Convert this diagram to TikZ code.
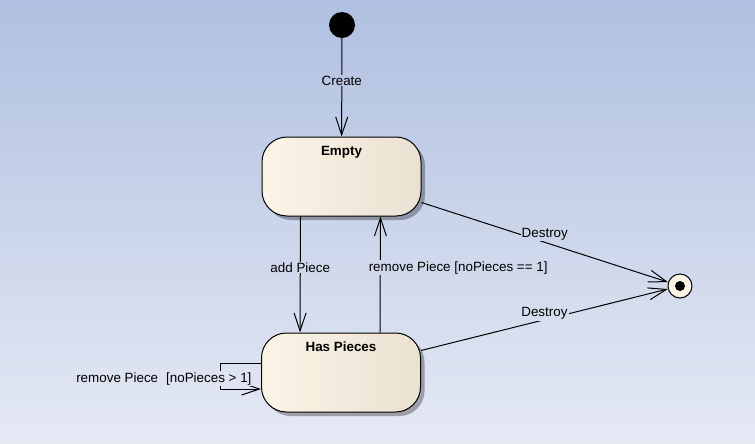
\documentclass[tikz,border=0pt]{standalone}
\usepackage{fontspec}
\setmainfont{Liberation Sans}
\usetikzlibrary{arrows.meta, positioning, shadows}
\definecolor{bgtop}{RGB}{176,192,224}
\definecolor{bgbot}{RGB}{229,233,244}
\definecolor{stateL}{RGB}{252,244,230}
\definecolor{stateR}{RGB}{234,225,211}

\begin{document}
\begin{tikzpicture}[
  x=1pt, y=-1pt,
  font=\fontsize{13.4}{15}\selectfont,
  state/.style={draw, line width=1pt, rounded corners=25pt,
    minimum width=159pt, minimum height=79pt,
    left color=stateL, right color=stateR,
    drop shadow={shadow xshift=4pt, shadow yshift=-4pt,
      fill=black, opacity=.3}},
  title/.style={font=\fontsize{13.4}{15}\selectfont\bfseries, anchor=north, yshift=-6pt},
  arr/.style={-{Straight Barb[length=18pt, width=12pt]}, line width=1pt},
  lbl/.style={inner sep=1pt}
]
  \path[use as bounding box, top color=bgtop, bottom color=bgbot]
    (0,0) rectangle (755,444);

  \node[circle, fill=black, minimum size=26pt, inner sep=0pt] (init) at (342,25) {};
  \node[state, label={[title]north:Empty}] (empty) at (341.5,176.5) {};
  \node[state, label={[title]north:Has Pieces}] (pieces) at (341,372.5) {};
  \node[circle, draw, line width=1pt, fill=stateL, minimum size=24pt, inner sep=0pt,
    path picture={\fill[black] (path picture bounding box.center) circle (5pt);}]
    (final) at (680,286) {};

  \draw[arr] (init) -- node[lbl, pos=0.43, fill=bgbot!18!bgtop] {Create} (empty);
  \draw[arr] ([xshift=-41pt]empty.south) --
    node[lbl, pos=0.44, fill=bgbot!60!bgtop] {add Piece} ([xshift=-41pt]pieces.north);
  \draw[arr] ([xshift=39pt]pieces.north) --
    node[lbl, pos=0.56, anchor=west, xshift=-13pt, fill=bgbot!60!bgtop]
    {remove Piece [noPieces == 1]} ([xshift=39pt]empty.south);
  \draw[arr] ([yshift=-26pt]empty.east) --
    node[lbl, pos=0.5, yshift=8pt, fill=bgbot!52!bgtop] {Destroy} (final);
  \draw[arr] ([yshift=22pt]pieces.east) --
    node[lbl, pos=0.5, yshift=6pt, fill=bgbot!70!bgtop] {Destroy} (final);
  \draw[arr] ([yshift=9.5pt]pieces.west) -- ++(-41,0) |-
    node[lbl, pos=0.3, anchor=east, xshift=33pt, fill=bgbot!85!bgtop]
    {remove Piece\hspace{8pt}[noPieces > 1]} ([yshift=-16.5pt]pieces.west);
\end{tikzpicture}
\end{document}
